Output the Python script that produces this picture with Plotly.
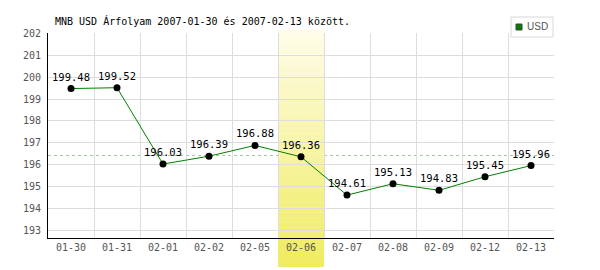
import numpy as np
import plotly.graph_objects as go

# ---- data ----
dates = ["01-30", "01-31", "02-01", "02-02", "02-05", "02-06",
         "02-07", "02-08", "02-09", "02-12", "02-13"]
usd = [199.48, 199.52, 196.03, 196.39, 196.88, 196.36,
       194.61, 195.13, 194.83, 195.45, 195.96]
highlight = "02-06"
y_ticks = list(range(193, 203))
title_text = "MNB USD Árfolyam 2007-01-30 és 2007-02-13 között."
series_name = "USD"

# ---- layout constants (pixels) ----
W, H = 600, 270
ML, MR, MT, MB = 48, 46, 33, 32
PW, PH = W - ML - MR, H - MT - MB
FONT = "DejaVu Sans Mono"

def py(pix):  # pixel y -> paper y
    return (H - MB - pix) / PH

def px(pix):  # pixel x -> paper x
    return (pix - ML) / PW

fig = go.Figure()

fig.add_trace(go.Scatter(
    x=dates, y=usd, mode="lines+markers+text",
    line=dict(color="#008000", width=1),
    marker=dict(color="black", size=7),
    text=[f"{v:.2f}" for v in usd], textposition="top center",
    textfont=dict(family=FONT, size=10.5, color="black"),
    cliponaxis=False, showlegend=False, name=series_name,
))

shapes = []
# average dashed line (drawn under the highlight band)
avg = float(np.mean(usd))
shapes.append(dict(type="line", xref="paper", yref="y", x0=0, x1=1,
                   y0=avg, y1=avg, layer="between",
                   line=dict(color="#9fc89f", width=1, dash="3px,3px")))
# highlighted column with vertical gradient
hi = dates.index(highlight)
n = 48
top_c = np.array([255, 253, 234])
bot_c = np.array([240, 236, 96])
y_top, y_bot = py(30), py(267)
for i in range(n):
    t = (i + 0.5) / n
    c = top_c + (bot_c - top_c) * t
    y1 = y_top + (y_bot - y_top) * i / n
    y0 = y_top + (y_bot - y_top) * (i + 1) / n
    shapes.append(dict(type="rect", xref="x", yref="paper",
                       x0=hi - 0.5, x1=hi + 0.5, y0=y0, y1=y1 + 0.001,
                       fillcolor=f"rgb({int(c[0])},{int(c[1])},{int(c[2])})",
                       line=dict(width=0), layer="between"))
# legend box
shapes.append(dict(type="rect", xref="paper", yref="paper",
                   x0=px(511), x1=px(553), y0=py(37), y1=py(17),
                   fillcolor="white", line=dict(color="#d8d8d8", width=1),
                   layer="above"))
shapes.append(dict(type="rect", xref="paper", yref="paper",
                   x0=px(516), x1=px(522), y0=py(30), y1=py(24),
                   fillcolor="#008000", line=dict(color="#444444", width=1),
                   layer="above"))

annotations = [
    dict(text=title_text, xref="paper", yref="paper", x=px(53), y=py(21),
         xanchor="left", yanchor="middle", showarrow=False,
         font=dict(family=FONT, size=10, color="black")),
    dict(text=series_name, xref="paper", yref="paper", x=px(525), y=py(27),
         xanchor="left", yanchor="middle", showarrow=False,
         font=dict(family="Liberation Sans", size=10, color="#555555")),
]

fig.update_layout(
    width=W, height=H,
    margin=dict(l=ML, r=MR, t=MT, b=MB, pad=0),
    paper_bgcolor="white", plot_bgcolor="white",
    shapes=shapes, annotations=annotations,
    showlegend=False,
    xaxis=dict(type="category", categoryorder="array", categoryarray=dates,
               range=[-0.5, len(dates) - 0.5], tickson="boundaries",
               showgrid=True, gridcolor="#dddddd", gridwidth=1,
               showline=True, linecolor="black", linewidth=1,
               ticks="", tickfont=dict(family=FONT, size=10, color="#555555"),
               fixedrange=True),
    yaxis=dict(range=[192.65, 202.02], tickvals=y_ticks,
               ticktext=[str(v) for v in y_ticks],
               showgrid=True, gridcolor="#dddddd", gridwidth=1,
               zeroline=False,
               showline=True, linecolor="black", linewidth=1,
               ticks="", ticklabelstandoff=4,
               tickfont=dict(family=FONT, size=10, color="#555555"),
               fixedrange=True),
)

fig.write_html("out.html")
